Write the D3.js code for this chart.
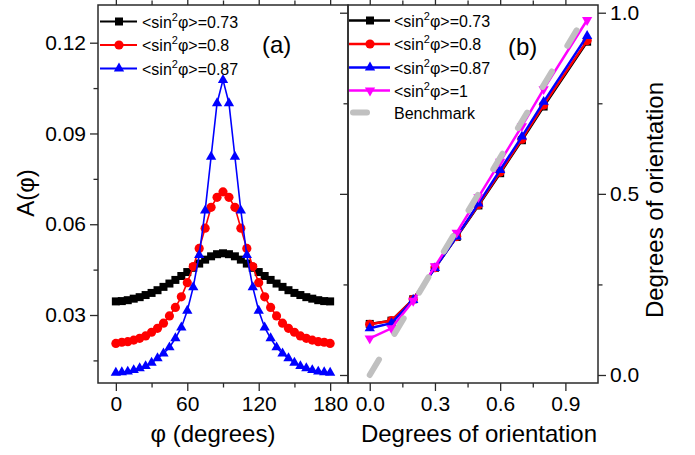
<!DOCTYPE html>
<html><head><meta charset="utf-8">
<script src="https://cdn.jsdelivr.net/npm/d3@7"></script>
<style>
body{margin:0;background:#fff}
svg text{font-family:"Liberation Sans",Arial,sans-serif;fill:#000}
</style>
</head><body>
<svg id="c" width="695" height="455"></svg>
<script>
// ---------- DATA ----------
// panel (a): angle phi in degrees
const phi = [0,5,10,15,20,25,30,35,40,45,50,55,60,65,70,75,80,85,90,
             95,100,105,110,115,120,125,130,135,140,145,150,155,160,165,170,175,180];
const aBlack = [0.0345,0.0346,0.0349,0.0354,0.0359,0.0366,0.0373,0.0382,0.0393,0.0404,0.0416,0.0429,0.0442,0.0456,0.0470,0.0483,0.0494,0.0501,0.0504,
                0.0501,0.0494,0.0483,0.0470,0.0456,0.0442,0.0429,0.0416,0.0404,0.0393,0.0382,0.0373,0.0366,0.0359,0.0354,0.0349,0.0346,0.0345];
const aRed = [0.0206,0.0210,0.0212,0.0217,0.0223,0.0231,0.0243,0.0256,0.0273,0.0297,0.0325,0.0360,0.0407,0.0460,0.0520,0.0587,0.0656,0.0689,0.0707,
              0.0689,0.0656,0.0587,0.0520,0.0460,0.0407,0.0360,0.0325,0.0297,0.0273,0.0256,0.0243,0.0231,0.0223,0.0217,0.0212,0.0210,0.0206];
const aBlue = [0.0109,0.0111,0.0113,0.0118,0.0124,0.0131,0.0142,0.0157,0.0173,0.0193,0.0223,0.0259,0.0314,0.0392,0.0498,0.0645,0.0823,0.1000,0.1077,
               0.1000,0.0823,0.0645,0.0498,0.0392,0.0314,0.0259,0.0223,0.0193,0.0173,0.0157,0.0142,0.0131,0.0124,0.0118,0.0113,0.0111,0.0109];
const labelsA = ["<sin\u00b2\u03c6>=0.73","<sin\u00b2\u03c6>=0.8","<sin\u00b2\u03c6>=0.87"];

// panel (b): degrees of orientation
const orient = [0,0.1,0.2,0.3,0.4,0.5,0.6,0.7,0.8,1.0];
const bBlack = [0.141,0.150,0.209,0.296,0.381,0.468,0.557,0.648,0.741,0.920];
const bRed   = [0.140,0.150,0.209,0.296,0.382,0.470,0.560,0.651,0.745,0.923];
const bBlue  = [0.129,0.143,0.207,0.295,0.382,0.473,0.566,0.658,0.754,0.936];
const bMag   = [0.101,0.129,0.205,0.300,0.393,0.491,0.589,0.687,0.789,0.980];
const benchX = [0,1];
const benchY = [0,1];
const labelsB = ["<sin\u00b2\u03c6>=0.73","<sin\u00b2\u03c6>=0.8","<sin\u00b2\u03c6>=0.87","<sin\u00b2\u03c6>=1","Benchmark"];

// ticks
const ticksAx = [0,60,120,180], minorAx = [30,90,150];
const ticksAy = [0.03,0.06,0.09,0.12], minorAy = [0.015,0.045,0.075,0.105];
const ticksBx = [0,0.3,0.6,0.9], minorBx = [0.15,0.45,0.75];
const ticksBy = [0,0.5,1.0], minorBy = [0.25,0.75];

// ---------- LAYOUT ----------
const svg = d3.select("#c");
const L = {x0:98, x1:348, y0:5, y1:383};
const R = {x0:348, x1:598, y0:5, y1:383};
const FRAME = "#2a2a2a";

const xA = d3.scaleLinear().domain([-15,195]).range([L.x0,L.x1]);
const yA = d3.scaleLinear().domain([0.00753,0.13246]).range([L.y1,L.y0]);
const xB = d3.scaleLinear().domain([-0.1,1.05]).range([R.x0,R.x1]);
const yB = d3.scaleLinear().domain([-0.0221,1.0213]).range([R.y1,R.y0]);

function axis(gen, tr, vals, size, fmt, pad){
  const g = svg.append("g").attr("transform", tr)
    .call(gen.tickValues(vals).tickSize(size).tickSizeOuter(0).tickPadding(pad||4).tickFormat(fmt||""));
  g.select(".domain").remove();
  g.selectAll("line").attr("stroke",FRAME).attr("stroke-width",1.3);
  g.selectAll("text").style("font-size","21px").attr("fill","#000");
  return g;
}
const MAJ=8, MIN=4.5;
// panel a axes
axis(d3.axisLeft(yA), `translate(${L.x0},0)`, ticksAy, MAJ, d3.format(".2f"), 4);
axis(d3.axisLeft(yA), `translate(${L.x0},0)`, minorAy, MIN);
axis(d3.axisBottom(xA), `translate(0,${L.y1})`, ticksAx, MAJ, d3.format("d"), 5);
axis(d3.axisBottom(xA), `translate(0,${L.y1})`, minorAx, MIN);
axis(d3.axisTop(xA), `translate(0,${L.y0})`, ticksAx, MAJ);
axis(d3.axisTop(xA), `translate(0,${L.y0})`, minorAx, MIN);
// panel b axes
axis(d3.axisBottom(xB), `translate(0,${R.y1})`, ticksBx, MAJ, d3.format(".1f"), 5);
axis(d3.axisBottom(xB), `translate(0,${R.y1})`, minorBx, MIN);
axis(d3.axisTop(xB), `translate(0,${R.y0})`, ticksBx, MAJ);
axis(d3.axisTop(xB), `translate(0,${R.y0})`, minorBx, MIN);
axis(d3.axisRight(yB), `translate(${R.x1},0)`, ticksBy, MAJ, d3.format(".1f"), 4);
axis(d3.axisRight(yB), `translate(${R.x1},0)`, minorBy, MIN);
axis(d3.axisLeft(yB), `translate(${R.x0},0)`, ticksBy, MAJ);
axis(d3.axisLeft(yB), `translate(${R.x0},0)`, minorBy, MIN);

// frames
[L,R].forEach(p=>{
  svg.append("rect").attr("x",p.x0).attr("y",p.y0).attr("width",p.x1-p.x0).attr("height",p.y1-p.y0)
    .attr("fill","none").attr("stroke",FRAME).attr("stroke-width",1.5);
});

// symbols
const sym = {
  square: d3.symbol().type(d3.symbolSquare).size(64)(),
  circle: d3.symbol().type(d3.symbolCircle).size(66)(),
  tri: d3.symbol().type(d3.symbolTriangle).size(46)(),
};
function marker(g, type, x, y, color){
  const p = g.append("path").attr("d", type==="down"? sym.tri : sym[type])
    .attr("fill",color).attr("transform",`translate(${x},${y})${type==="down"?" rotate(180)":""}`);
  return p;
}

// panel a series
const seriesA = [
  {v:aBlack, c:"#000000", m:"square"},
  {v:aRed, c:"#ff0000", m:"circle"},
  {v:aBlue, c:"#0000ff", m:"tri"},
];
seriesA.forEach(s=>{
  const g = svg.append("g");
  const line = d3.line().x((d,i)=>xA(phi[i])).y(d=>yA(d));
  g.append("path").attr("d", line(s.v)).attr("fill","none").attr("stroke",s.c).attr("stroke-width",1.6);
  s.v.forEach((d,i)=>marker(g, s.m, xA(phi[i]), yA(d), s.c));
});

// panel b series
const seriesB = [
  {v:bBlack, c:"#000000", m:"square"},
  {v:bRed, c:"#ff0000", m:"circle"},
  {v:bBlue, c:"#0000ff", m:"tri"},
  {v:bMag, c:"#ff00ff", m:"down"},
];
seriesB.forEach(s=>{
  const g = svg.append("g");
  const line = d3.line().x((d,i)=>xB(orient[i])).y(d=>yB(d));
  g.append("path").attr("d", line(s.v)).attr("fill","none").attr("stroke",s.c).attr("stroke-width",2.5);
  s.v.forEach((d,i)=>marker(g, s.m, xB(orient[i]), yB(d), s.c));
});
// benchmark
svg.append("path")
  .attr("d", d3.line().x((d,i)=>xB(benchX[i])).y(d=>yB(d))(benchY))
  .attr("fill","none").attr("stroke","#c0c0c0").attr("stroke-width",6)
  .attr("stroke-linecap","round").attr("stroke-dasharray","18,30");

// legends
function legendText(x, y, txt){
  const t = svg.append("text").attr("x",x).attr("y",y).style("font-size","16px");
  if(txt.indexOf("\u00b2")>=0){
    const parts = txt.split("\u00b2");
    t.append("tspan").text(parts[0]);
    t.append("tspan").attr("dy",-7).style("font-size","11px").text("2");
    t.append("tspan").attr("dy",7).text(parts[1]);
  } else t.text(txt);
}
const rowsA = [21.5,45,68.5];
seriesA.forEach((s,i)=>{
  const y = rowsA[i];
  svg.append("line").attr("x1",100).attr("x2",137).attr("y1",y).attr("y2",y).attr("stroke",s.c).attr("stroke-width",2);
  marker(svg, s.m, 119, y, s.c);
  legendText(142, y+6, labelsA[i]);
});
const rowsB = [20.5,44,67.5,90.5,112.5];
seriesB.forEach((s,i)=>{
  const y = rowsB[i];
  svg.append("line").attr("x1",349).attr("x2",390).attr("y1",y).attr("y2",y).attr("stroke",s.c).attr("stroke-width",2.5);
  marker(svg, s.m, 370, y, s.c);
  legendText(394, y+6, labelsB[i]);
});
svg.append("line").attr("x1",353).attr("x2",367).attr("y1",rowsB[4]).attr("y2",rowsB[4])
  .attr("stroke","#c0c0c0").attr("stroke-width",6).attr("stroke-linecap","round");
legendText(394, rowsB[4]+6, labelsB[4]);

// panel labels
svg.append("text").attr("x",262).attr("y",53).style("font-size","24px").text("(a)");
svg.append("text").attr("x",508).attr("y",55).style("font-size","24px").text("(b)");

// axis titles
svg.append("text").attr("transform","translate(34,193) rotate(-90)").attr("text-anchor","middle")
  .style("font-size","24px").text("A(\u03c6)");
svg.append("text").attr("x",213).attr("y",442).attr("text-anchor","middle").style("font-size","24px").text("\u03c6 (degrees)");
svg.append("text").attr("x",479).attr("y",442).attr("text-anchor","middle").style("font-size","24px").text("Degrees of orientation");
svg.append("text").attr("transform","translate(663,200) rotate(-90)").attr("text-anchor","middle")
  .style("font-size","24px").text("Degrees of orientation");
</script>
</body></html>
